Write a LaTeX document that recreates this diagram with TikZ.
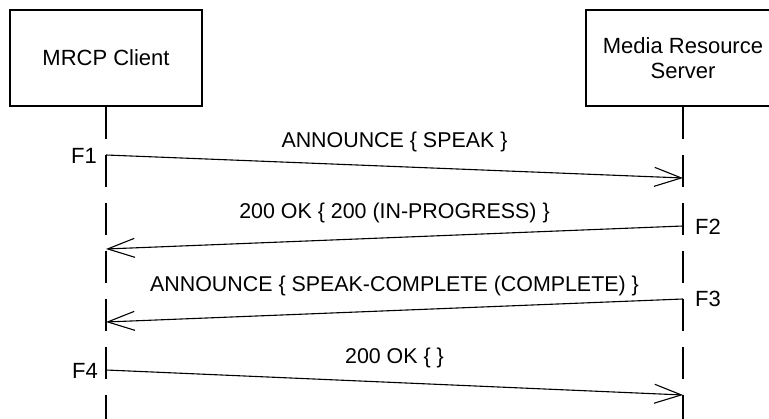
\documentclass[tikz,border=0pt]{standalone}
\usepackage{fontspec}
\setmainfont{Liberation Sans}
\usepackage{tikz}
\usetikzlibrary{arrows.meta}
\usetikzlibrary{positioning,backgrounds}
\pgfdeclarelayer{edgelayer}
\pgfdeclarelayer{nodelayer}
\pgfsetlayers{background,edgelayer,nodelayer,main}
\tikzstyle{none}=[inner sep=0mm]
\tikzstyle{actor}=[draw=black,line width=1.2pt,fill=white,inner sep=0pt,align=center,font=\fontsize{22}{25}\selectfont]
\tikzstyle{lifeline}=[line width=1.2pt,dash pattern=on 32pt off 16pt]
\tikzstyle{msg}=[line width=1.1pt,-{Straight Barb[length=27pt,width=19pt,line width=1.1pt]}]
\tikzstyle{msglabel}=[midway,anchor=base,yshift=19pt,inner sep=0pt,font=\fontsize{21.4}{25}\selectfont]
\tikzstyle{flabel}=[inner sep=0pt,font=\fontsize{22}{25}\selectfont]

\begin{document}
\begin{tikzpicture}[x=1pt,y=-1pt]
	\useasboundingbox (0,0) rectangle (769,419);
	\clip (0,0) rectangle (769,419);
	\begin{pgfonlayer}{nodelayer}
		\node [style=actor, minimum width=192pt, minimum height=96pt] (client) at (106, 58) {MRCP Client};
		\node [style=actor, minimum width=194pt, minimum height=96pt] (server) at (683, 58) {Media Resource\\Server};
		\node [style=none] (cend) at (106, 430) {};
		\node [style=none] (send) at (683, 430) {};
		\node [style=none] (c1) at (106, 155) {};
		\node [style=none] (s1) at (683, 178) {};
		\node [style=none] (s2) at (683, 226) {};
		\node [style=none] (c2) at (106, 249) {};
		\node [style=none] (s3) at (683, 299) {};
		\node [style=none] (c3) at (106, 322) {};
		\node [style=none] (c4) at (106, 370) {};
		\node [style=none] (s4) at (683, 395) {};
		\node [style=flabel, anchor=base east] (f1) at (97, 164) {F1};
		\node [style=flabel, anchor=base west] (f2) at (695, 235) {F2};
		\node [style=flabel, anchor=base west] (f3) at (695, 307) {F3};
		\node [style=flabel, anchor=base east] (f4) at (98, 379) {F4};
	\end{pgfonlayer}
	\begin{pgfonlayer}{edgelayer}
		\draw [style=lifeline] (client.south) to (cend.center);
		\draw [style=lifeline] (server.south) to (send.center);
		\draw [style=msg] (c1.center) to node [style=msglabel] {ANNOUNCE \{ SPEAK \}} (s1.center);
		\draw [style=msg] (s2.center) to node [style=msglabel] {200 OK \{ 200 (IN-PROGRESS) \}} (c2.center);
		\draw [style=msg] (s3.center) to node [style=msglabel] {ANNOUNCE \{ SPEAK-COMPLETE (COMPLETE) \}} (c3.center);
		\draw [style=msg] (c4.center) to node [style=msglabel] {200 OK \{ \}} (s4.center);
	\end{pgfonlayer}
\end{tikzpicture}
\end{document}
